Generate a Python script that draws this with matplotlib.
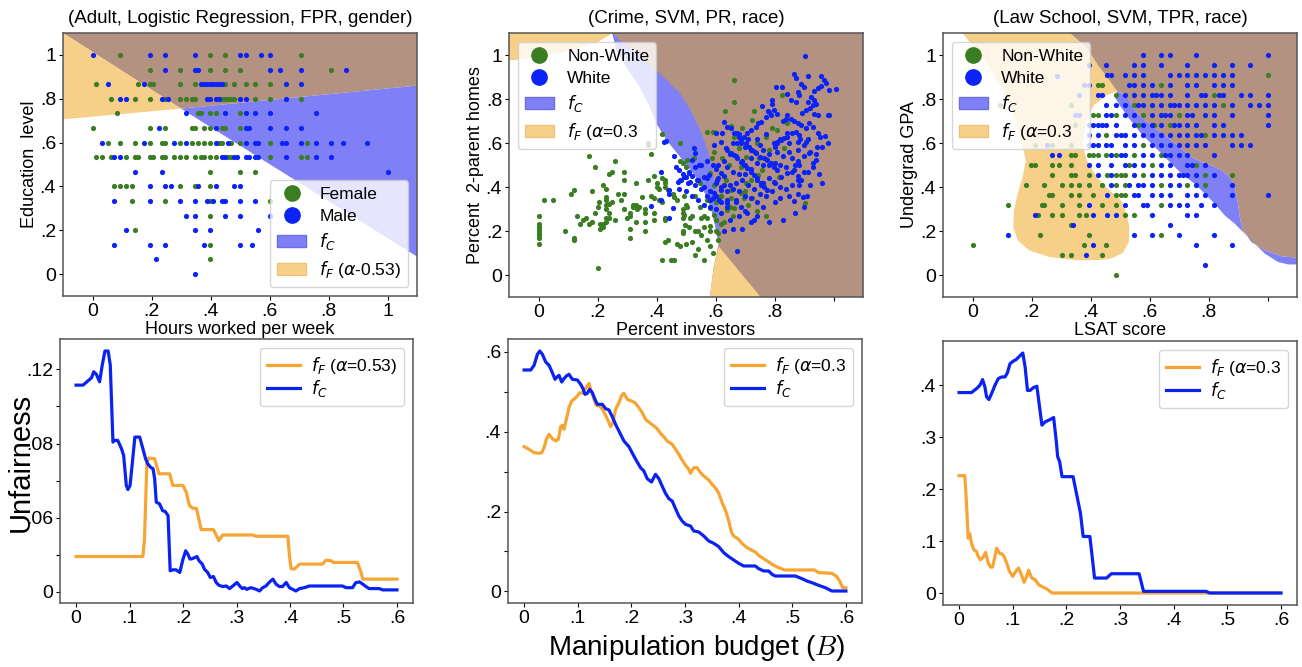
import numpy as np
import matplotlib.pyplot as plt
from matplotlib.patches import Polygon, Patch
from matplotlib.lines import Line2D

plt.rcParams['font.family'] = ['Liberation Sans', 'DejaVu Sans']
plt.rcParams['mathtext.fontset'] = 'dejavusans'

GREEN = '#3a7d22'
BLUE = '#0b22f8'
LINE_BLUE = '#0a22f2'
LINE_ORANGE = '#f6a534'
REG_BLUE = '#8080f6'
REG_ORANGE = '#f6d089'
REG_BROWN = '#b49282'

# ---------------- Adult (education level rows -> hours worked) ----------------
adult_female_rows = [
    (1.0, [.094, .398, .45, .706]),
    (.933, [.195, .296, .398, .45, .50, .81]),
    (.867, [.011, .154, .195, .205, .296, .347, .45, .48, .52, .55, .60]),
    (.8, [.062, .144, .195, .245, .296, .317, .337, .347, .44, .45, .46, .47, .48, .55, .60, .706]),
    (.733, [.083, .357, .368, .398, .42, .50]),
    (.667, [0, .195, .245, .337, .347, .378, .398, .44, .45, .50]),
    (.6, [.052, .093, .144, .195, .235, .245, .296, .337, .357, .378, .398, .43, .44, .47, .50, .60, .726]),
    (.533, [.011, .032, .062, .113, .144, .154, .195, .205, .235, .245, .276, .296, .317, .347, .368,
            .378, .398, .42, .46, .47, .60, .706, .726]),
    (.467, [.398, .50, .55]),
    (.4, [.072, .093, .113, .133, .296, .347, .398]),
    (.333, [.133, .245, .398, .60]),
    (.267, [.398]),
    (.2, [.144]),
    (.133, [.398]),
    (.067, [.398]),
]
adult_male_rows = [
    (1.0, [0, .195, .245, .347, .50, .52, .57, .60]),
    (.933, [.245, .347, .357, .60, .635, .706, .86]),
    (.867, [.052, .174, .368, .378, .388, .398, .408, .42, .43, .44, .655, .706]),
    (.8, [.093, .113, .235, .256, .388, .398, .42, .43, .50, .52, .655]),
    (.733, [.317, .45, .52, .55, .60, .757]),
    (.667, [.225, .42, .52, .53, .60, .655, .706]),
    (.6, [.032, .174, .276, .317, .42, .46, .52, .55, .56, .644, .655, .706, .757, .81, .85, .93]),
    (.533, [.072, .093, .44, .45, .48, .49, .52, .53, .55, .56, .655, .757, .81]),
    (.467, [.144, .235, 1.0]),
    (.4, [.195, .245, .266, .357, .42, .48, .50]),
    (.333, [.072, .195, .296, .347, .388, .41, .44, .45, .50, .55]),
    (.267, [.317, .347, .45, .50, .60]),
    (.2, [.113, .347, .398, .56]),
    (.133, [.072, .195, .245, .378, .50, .54]),
    (.067, [.215]),
    (0.0, [.347]),
]
adult_brown = [(-0.1, 1.1), (1.1, 1.1), (1.1, 0.86), (0.30, 0.755)]
adult_orange = [(-0.1, 1.1), (-0.1, 0.706), (0.30, 0.755)]
adult_blue = [(0.30, 0.755), (1.1, 0.86), (1.1, 0.08)]

# ---------------- Crime (percent investors, percent 2-parent homes) ----------------
crime_nonwhite = [
    (0, .27), (0, .23), (0, .22), (0, .205), (0, .19), (0, .18), (0, .17), (0, .14),
    (.02, .34), (.05, .34), (.09, .20), (.11, .37), (.12, .385), (.12, .17), (.12, .16), (.13, .27),
    (.14, .23), (.15, .25), (.16, .26), (.17, .23), (.17, .54), (.18, .38), (.18, .24), (.19, .49),
    (.19, .28), (.20, .03), (.20, .31), (.205, .33), (.21, .21), (.21, .23), (.22, .22), (.22, .23),
    (.22, .41), (.23, .39), (.23, .355), (.23, .34), (.24, .325), (.23, .32), (.23, .30), (.23, .26),
    (.24, .26), (.24, .28), (.23, .24), (.24, .46), (.25, .47), (.25, .33), (.26, .52), (.26, .25),
    (.27, .37), (.29, .47), (.29, .43), (.28, .34), (.29, .30), (.29, .37), (.30, .26), (.31, .27),
    (.31, .28), (.32, .31), (.32, .32), (.33, .32), (.33, .42), (.335, .30), (.34, .31), (.35, .355),
    (.31, .21), (.31, .17), (.33, .24), (.36, .24), (.36, .20), (.36, .30), (.36, .28), (.37, .43),
    (.37, .60), (.37, .59), (.38, .55), (.38, .36), (.39, .35), (.39, .28), (.39, .25), (.40, .42),
    (.40, .40), (.41, .39), (.39, .45), (.42, .44), (.43, .43), (.43, .42), (.43, .40), (.41, .34),
    (.42, .33), (.42, .64), (.43, .26), (.43, .25), (.43, .15), (.44, .16), (.42, .07), (.45, .07),
    (.46, .07), (.44, .385), (.455, .37), (.46, .355), (.47, .34), (.47, .14), (.48, .13), (.48, .60),
    (.49, .30), (.49, .28), (.49, .26), (.49, .20), (.49, .19), (.48, .52), (.49, .51), (.50, .49),
    (.662, .885), (.662, .787), (.632, .745), (.651, .677), (.572, .648), (.591, .648), (.827, .817),
    (.731, .746), (.723, .704), (.844, .689), (.664, .628), (.69, .666), (.793, .666), (.81, .659),
    (.771, .628), (.742, .598), (.833, .576), (.782, .568), (.68, .576), (.702, .538), (.748, .53),
    (.771, .526), (.645, .5), (.685, .492), (.594, .56), (.503, .523), (.526, .53), (.588, .53),
    (.622, .53), (.759, .477), (.745, .455), (.814, .444), (.56, .447), (.583, .462), (.549, .417),
    (.594, .409), (.634, .432), (.702, .417), (.651, .387), (.617, .357), (.651, .349), (.685, .372),
    (.697, .349), (.725, .349), (.711, .319), (.739, .289), (.77, .269), (.902, .326), (.492, .357),
    (.532, .357), (.572, .341), (.503, .311), (.549, .311), (.583, .304), (.492, .273), (.515, .258),
    (.56, .269), (.498, .228), (.572, .258), (.594, .273), (.64, .296), (.662, .304), (.583, .221),
    (.51, .22), (.53, .20), (.55, .18), (.57, .16), (.52, .15), (.50, .14), (.54, .12), (.58, .20),
    (.60, .25), (.59, .10), (.56, .07), (.53, .09), (.61, .19), (.62, .23),
    (.62, .36), (.60, .33), (.58, .34), (.55, .26), (.63, .24), (.66, .27), (.61, .16), (.58, .13),
    (.52, .27), (.50, .32), (.56, .22), (.54, .20), (.60, .20), (.65, .31), (.70, .38), (.72, .43),
]
crime_white = [
    (.426, .604), (.432, .609), (.414, .468), (.46, .539), (.466, .491), (.477, .476), (.489, .461),
    (.483, .431), (.472, .423), (.477, .393), (.443, .388), (.441, .367), (.414, .34), (.381, .313),
    (.455, .305), (.443, .257), (.5, .446), (.506, .416),
    (.905, .994), (.958, .903), (.967, .888), (.975, .872), (.958, .858), (.947, .85), (.935, .835),
    (.984, .842), (1.01, .845), (.865, .915), (.873, .896), (.89, .87), (.899, .855), (.913, .903),
    (.878, .832), (.884, .817), (.805, .855), (.824, .855), (.844, .825), (.856, .795), (.873, .787),
    (.924, .81), (.935, .795), (.93, .772), (.941, .779), (.913, .787), (.922, .757), (.907, .749),
    (.892, .737), (.933, .734), (.947, .727), (.981, .727), (.986, .727), (.793, .795), (.793, .779),
    (.799, .749), (.808, .734), (.787, .727), (.756, .767), (.782, .742), (.77, .719), (.844, .727),
    (.838, .711), (.83, .701), (.856, .711), (.867, .701), (.878, .689), (.89, .681), (.907, .666),
    (.918, .689), (.93, .671), (.873, .651), (.884, .636), (.861, .644), (.844, .644), (.833, .625),
    (.821, .613), (.81, .606), (.799, .598), (.947, .644), (.953, .628), (.945, .583), (.915, .616),
    (.907, .606), (.888, .616), (.878, .606), (.779, .746), (.754, .697), (.744, .692), (.736, .674),
    (.719, .659), (.708, .644), (.696, .628), (.685, .613), (.673, .598), (.623, .644), (.603, .647),
    (.594, .59), (.617, .604),
    (.685, .60), (.70, .58), (.72, .57), (.735, .56), (.75, .59), (.76, .57), (.78, .55), (.80, .58),
    (.81, .56), (.83, .54), (.85, .56), (.86, .53), (.87, .50), (.88, .52), (.90, .54), (.92, .56),
    (.94, .55), (.72, .53), (.74, .51), (.76, .50), (.78, .50), (.80, .51), (.82, .50), (.84, .49),
    (.86, .47), (.88, .45), (.90, .47), (.93, .49), (.95, .46), (.96, .42), (.92, .41), (.89, .43),
    (.70, .50), (.69, .52), (.67, .54), (.65, .55), (.63, .52), (.61, .50), (.64, .49), (.66, .47),
    (.68, .46), (.70, .46), (.72, .48), (.74, .44), (.76, .42), (.78, .44), (.80, .42), (.82, .40),
    (.84, .39), (.86, .41), (.79, .38), (.77, .36), (.75, .37), (.73, .39), (.71, .41), (.69, .43),
    (.67, .42), (.65, .41), (.63, .45), (.61, .44), (.60, .42), (.62, .40), (.64, .38), (.66, .39),
    (.68, .38), (.70, .36), (.72, .35), (.74, .33), (.76, .31), (.80, .33), (.82, .35), (.85, .36),
    (.88, .37), (.91, .36), (.90, .31), (.87, .28), (.83, .25), (.78, .24), (.74, .27), (.70, .29),
    (.67, .33), (.64, .34), (.62, .33), (.60, .36), (.58, .38), (.56, .40), (.54, .43), (.52, .45),
    (.53, .41), (.55, .39), (.57, .36), (.59, .35), (.58, .31), (.56, .32), (.54, .34), (.52, .36),
    (.50, .38), (.51, .47), (.53, .49), (.55, .50), (.57, .52), (.59, .50), (.60, .48), (.57, .44),
    (.62, .28), (.65, .25), (.68, .27), (.72, .24), (.69, .21), (.66, .21), (.63, .20), (.64, .31),
    (.60, .30), (.674, .11), (.865, .337), (.895, .355), (.93, .51), (.96, .58), (.97, .63),
    (.90, .59), (.85, .60), (.82, .62), (.77, .64), (.74, .62), (.71, .62), (.68, .64), (.66, .60),
    (.98, .60),
    (.481, .432), (.515, .424), (.538, .432), (.56, .447), (.579, .455), (.526, .576), (.532, .553),
    (.52, .523), (.543, .50), (.509, .462), (.492, .447), (.629, .696), (.64, .674), (.651, .666),
    (.662, .644), (.673, .644), (.679, .628), (.702, .598), (.713, .583), (.724, .568), (.736, .553),
    (.75, .538), (.764, .53), (.776, .523), (.787, .508), (.799, .492), (.81, .477), (.634, .576),
    (.64, .568), (.651, .553), (.662, .545), (.673, .53), (.685, .515), (.697, .50), (.708, .485),
    (.719, .47), (.731, .455), (.742, .432), (.754, .417), (.764, .402), (.617, .462), (.606, .432),
    (.629, .409), (.617, .387), (.594, .372), (.583, .341), (.611, .341), (.64, .326), (.668, .341),
    (.685, .311), (.708, .281), (.731, .251), (.754, .409), (.776, .387), (.799, .424), (.821, .447),
    (.844, .462), (.867, .477), (.884, .50), (.878, .432), (.884, .409), (.913, .47), (.941, .523),
    (.918, .553), (.878, .568), (.841, .628), (.81, .598),
]
crime_orange_top = [(-0.1, 1.1), (0.25, 1.1), (0.2, 1.06), (0.1, 1.02), (0.0, 0.99), (-0.1, 0.977)]
crime_white_region = [
    (-0.1, 0.977), (0.0, 0.99), (0.1, 1.02), (0.2, 1.06), (0.25, 1.1), (0.265, 1.02), (0.299, 0.944),
    (0.344, 0.853), (0.378, 0.763), (0.401, 0.687), (0.435, 0.612), (0.481, 0.536), (0.526, 0.461),
    (0.56, 0.385), (0.583, 0.31), (0.6, 0.219), (0.611, 0.144), (0.594, 0.038), (0.581, -0.1),
    (-0.1, -0.1),
]
crime_blue = [
    (0.25, 1.1), (0.3, 1.04), (0.4, 0.93), (0.481, 0.825), (0.515, 0.749), (0.543, 0.674),
    (0.566, 0.598), (0.583, 0.523), (0.594, 0.447), (0.603, 0.372), (0.611, 0.296), (0.615, 0.19),
    (0.611, 0.13), (0.611, 0.144), (0.6, 0.219), (0.583, 0.31), (0.56, 0.385), (0.526, 0.461),
    (0.481, 0.536), (0.435, 0.612), (0.401, 0.687), (0.378, 0.763), (0.344, 0.853), (0.299, 0.944),
    (0.265, 1.02),
]
crime_orange_bottom = [(0.581, -0.1), (0.753, -0.1), (0.611, 0.13), (0.594, 0.038)]

# ---------------- Law school (LSAT score, undergrad GPA) ----------------
law_nonwhite = [
    (.424, .862), (.439, .862), (.334, .771), (.41, .726), (.424, .726), (.348, .68), (.452, .635),
    (.213, .589), (.271, .589), (.334, .589), (.334, .544), (.348, .544), (.394, .544), (.41, .544),
    (.424, .544), (.452, .544), (.198, .498), (.213, .498), (.271, .498), (.294, .498), (.334, .498),
    (.271, .453), (.334, .453), (.348, .453), (.394, .453), (.455, .453), (.183, .408), (.243, .408),
    (.303, .408), (.334, .408), (.362, .408), (.394, .408), (.439, .408), (.259, .362), (.271, .362),
    (.334, .362), (.362, .362), (.41, .362), (.122, .317), (.235, .317), (.243, .317), (.303, .317),
    (.362, .317), (.439, .317), (.222, .271), (.271, .271), (.303, .271), (.362, .271), (.385, .271),
    (.334, .226), (.229, .18), (.394, .18), (0, .135), (.379, .135), (.452, .135), (.303, .089),
    (.334, .089), (.439, .089), (.488, 0), (.092, .774), (.333, .773),
    (1.0, .908), (.638, .862), (.488, .817), (.819, .817), (.546, .771), (.849, .771), (.488, .726),
    (.577, .726), (.699, .726), (.561, .68), (.615, .68), (.668, .68), (.789, .635), (.577, .589),
    (.488, .544), (.546, .544), (.638, .544), (.53, .498), (.607, .498), (.758, .498), (.488, .453),
    (.504, .453), (.516, .453), (.577, .453), (.789, .453), (.88, .453), (.488, .408), (.516, .408),
    (.638, .408), (.728, .408), (.789, .408), (.488, .362), (.504, .362), (.516, .362), (.488, .317),
    (.638, .317), (.516, .271), (.546, .271), (.638, .18),
]
law_white_left = [
    (.394, .953), (.452, .953), (.288, .906), (.455, .908), (.469, .908), (.379, .862), (.394, .862),
    (.362, .817), (.424, .817), (.439, .817), (.452, .771), (.348, .726), (.362, .726), (.452, .726),
    (.469, .726), (.394, .68), (.41, .68), (.424, .68), (.439, .68), (.452, .68), (.394, .635),
    (.424, .635), (.253, .589), (.394, .589), (.41, .589), (.424, .589), (.452, .589), (.469, .589),
    (.271, .544), (.294, .544), (.469, .544), (.394, .498), (.424, .498), (.469, .498), (.424, .453),
    (.469, .453), (.469, .408), (.455, .362), (.394, .317), (.213, .271), (.41, .271), (.455, .271),
    (.342, .226), (.122, .18), (.41, .135), (.385, .089),
]
# remaining white students, one row per GPA level
law_white_rows = [
    (.998, [.577, .638, .668, .758, 1.0]),
    (.953, [.546, .577, .638, .728, .819, .88, .94]),
    (.908, [.516, .546, .577, .668, .699, .728, .758, .789, .819, .849, .88]),
    (.862, [.53, .546, .577, .607, .668, .728, .758, .819, .849, .88]),
    (.817, [.516, .546, .577, .607, .623, .638, .668, .728, .773, .789, .835, .849, .909, .94, 1.0]),
    (.771, [.488, .516, .561, .577, .607, .638, .668, .683, .699, .728, .758, .789, .819, .88, .94,
            .971, 1.0]),
    (.726, [.516, .546, .607, .638, .654, .668, .728, .744, .789, .819, .88, 1.0]),
    (.68, [.488, .546, .577, .607, .638, .683, .699, .728, .758, .819, .849, 1.0]),
    (.635, [.488, .504, .516, .546, .577, .607, .638, .668, .699, .728, .758, .773, .819, .849, .88,
            .909]),
    (.589, [.516, .546, .607, .638, .668, .699, .728, .758, .789, .88, .909, .94]),
    (.544, [.504, .516, .577, .607, .654, .668, .699, .728, .819]),
    (.498, [.516, .546, .577, .638, .668, .728, .744, .789]),
    (.453, [.546, .607, .638, .668, .699, .714, .728, .758, .819]),
    (.408, [.53, .561, .577, .607, .668, .699, .758, .88]),
    (.362, [.546, .561, .607, .638, .668, .728, .758, .789, .88, 1.0]),
    (.317, [.516, .577, .592, .668, .699, .728, .773, .819]),
    (.271, [.488, .607, .728, .758]),
    (.226, [.668]),
    (.18, [.546, .607, .699, .819]),
    (.135, [.758, .88]),
    (.044, [.789]),
]
law_orange = [
    (-0.034, 1.1), (0.33, 1.1), (0.385, 1.036), (0.43, 0.945), (0.464, 0.885), (0.49, 0.835),
    (0.457, 0.818), (0.412, 0.773), (0.39, 0.72), (0.379, 0.658), (0.373, 0.597), (0.385, 0.529),
    (0.407, 0.476), (0.435, 0.424), (0.464, 0.386), (0.498, 0.348), (0.51, 0.326), (0.521, 0.282),
    (0.532, 0.218), (0.53, 0.15), (0.51, 0.10), (0.47, 0.075), (0.43, 0.068), (0.351, 0.067),
    (0.26, 0.082), (0.192, 0.112), (0.153, 0.158), (0.138, 0.218), (0.141, 0.294), (0.153, 0.37),
    (0.17, 0.445), (0.181, 0.521), (0.17, 0.582), (0.158, 0.642), (0.124, 0.794), (0.057, 0.945),
]
law_brown = [
    (0.33, 1.1), (1.1, 1.1), (1.1, 0.079), (1.048, 0.085), (0.991, 0.112), (0.946, 0.15), (0.917, 0.203),
    (0.906, 0.264), (0.9, 0.324), (0.889, 0.4), (0.872, 0.445), (0.844, 0.476), (0.81, 0.498),
    (0.776, 0.514), (0.742, 0.536), (0.708, 0.574), (0.674, 0.612), (0.629, 0.658), (0.584, 0.703),
    (0.55, 0.748), (0.521, 0.817), (0.49, 0.835), (0.464, 0.885), (0.43, 0.945), (0.385, 1.036),
]
law_blue = [
    (0.49, 0.835), (0.521, 0.817), (0.55, 0.748), (0.584, 0.703), (0.629, 0.658), (0.674, 0.612),
    (0.708, 0.574), (0.742, 0.536), (0.776, 0.514), (0.81, 0.498), (0.844, 0.476), (0.872, 0.445),
    (0.889, 0.4), (0.9, 0.324), (0.906, 0.264), (0.917, 0.203), (0.946, 0.15), (0.991, 0.112),
    (1.048, 0.085), (1.1, 0.079), (1.1, 0.048), (1.07, 0.048), (1.036, 0.059), (0.991, 0.097),
    (0.957, 0.142), (0.923, 0.188), (0.889, 0.233), (0.855, 0.271), (0.821, 0.324), (0.787, 0.37),
    (0.753, 0.415), (0.708, 0.461), (0.663, 0.521), (0.618, 0.582), (0.572, 0.642), (0.527, 0.718),
    (0.5, 0.77), (0.482, 0.81),
]

# ---------------- unfairness vs manipulation budget ----------------
adult_fc = [
    (0, .1115), (.013, .1115), (.022, .1137), (.029, .1155), (.033, .1187), (.038, .1173), (.044, .1133),
    (.049, .1223), (.054, .1299), (.060, .1299), (.064, .1223), (.069, .0808), (.072, .0817), (.078, .0817),
    (.085, .0772), (.089, .0736), (.094, .0574), (.097, .0552), (.101, .0574), (.106, .0718), (.110, .0835),
    (.119, .0835), (.125, .0772), (.130, .0718), (.134, .0691), (.139, .0673), (.144, .0664), (.147, .061),
    (.150, .0484), (.156, .0475), (.162, .0438), (.167, .0433), (.172, .0411), (.176, .0114), (.181, .0119),
    (.187, .0119), (.194, .0105), (.200, .0177), (.205, .0222), (.209, .0204), (.213, .0177), (.218, .018),
    (.226, .0191), (.230, .0168), (.236, .015), (.240, .0123), (.246, .0105), (.251, .0078), (.257, .0083),
    (.262, .0051), (.267, .0036), (.274, .0029), (.281, .0032), (.287, .0018), (.293, .0032), (.301, .0051),
    (.306, .0032), (.311, .0018), (.315, .0023), (.319, .0014), (.327, .0023), (.337, .0014), (.343, .0005),
    (.349, .0023), (.355, .0032), (.362, .0054), (.368, .0069), (.374, .0042), (.380, .0029), (.386, .0029),
    (.393, .0051), (.399, .0023), (.405, .0014), (.411, .0005), (.418, .0018), (.427, .0023), (.436, .0032),
    (.467, .0032), (.498, .0032), (.505, .0023), (.511, .0023), (.517, .0023), (.523, .005), (.530, .0054),
    (.536, .0042), (.542, .0029), (.548, .0018), (.567, .0018), (.573, .0011), (.600, .0011),
]
adult_ff = [
    (0, .0191), (.125, .0191), (.128, .0285), (.1325, .070), (.136, .0722), (.147, .0718), (.155, .0637),
    (.175, .0637), (.181, .0574), (.200, .0574), (.206, .0538), (.212, .0466), (.218, .0451), (.225, .0451),
    (.234, .0336), (.257, .0336), (.267, .0276), (.274, .0307), (.330, .0307), (.337, .030), (.396, .030),
    (.399, .0195), (.402, .0126), (.408, .0123), (.418, .015), (.461, .015), (.467, .0171), (.477, .0168),
    (.481, .0159), (.526, .0159), (.533, .0105), (.536, .0069), (.600, .0069),
]
crime_fc = [
    (0, .5547), (.0124, .5547), (.0186, .5664), (.0248, .594), (.0292, .6023), (.0341, .594), (.0403, .5748),
    (.0465, .5664), (.0527, .548), (.0577, .5313), (.062, .538), (.0651, .5414), (.0701, .5246), (.0744, .533),
    (.0788, .5397), (.0837, .5439), (.09, .5313), (.0993, .5297), (.1055, .5188), (.1098, .5079),
    (.1135, .4937), (.1179, .4962), (.1222, .5063), (.1272, .4979), (.1321, .4812), (.1365, .4687),
    (.1458, .4687), (.152, .4578), (.1582, .4545), (.1644, .4378), (.1706, .4185), (.1768, .4018),
    (.1861, .3768), (.1954, .3626), (.2029, .3434), (.2109, .3241), (.2171, .3099), (.2233, .3016),
    (.2295, .2824), (.2376, .274), (.245, .2932), (.2512, .2824), (.2587, .2598), (.2636, .2456),
    (.2699, .2322), (.2761, .2264), (.2823, .2072), (.2885, .1888), (.2947, .1763), (.3009, .1679),
    (.3102, .1637), (.3164, .1512), (.3257, .1487), (.335, .1387), (.3443, .1261), (.3536, .1203),
    (.3629, .1119), (.3722, .0969), (.3815, .0869), (.3908, .0785), (.4001, .0702), (.4094, .0635),
    (.4311, .0635), (.4373, .0568), (.4467, .051), (.456, .051), (.4622, .0426), (.4684, .0384),
    (.5056, .0384), (.518, .0317), (.5273, .0259), (.5366, .0217), (.549, .015), (.5614, .0092),
    (.5738, .0008), (.6, .0008),
]
crime_ff = [
    (0, .3626), (.0093, .3559), (.0186, .3475), (.0279, .3459), (.0329, .3475), (.0372, .3601), (.0416, .381),
    (.0465, .3935), (.0527, .3826), (.0589, .3768), (.0639, .381), (.0682, .4127), (.0713, .416),
    (.0744, .406), (.0788, .4311), (.0837, .4603), (.0887, .477), (.0931, .4812), (.0993, .4896),
    (.1036, .4979), (.1086, .4962), (.1135, .5063), (.1179, .5146), (.121, .5213), (.1241, .5063),
    (.1303, .4812), (.1346, .4662), (.1408, .4645), (.147, .4545), (.152, .4411), (.1569, .4269),
    (.1613, .4127), (.1656, .4227), (.1706, .4561), (.1768, .4729), (.183, .4937), (.1861, .4962),
    (.1923, .4812), (.2004, .477), (.2066, .4729), (.214, .4603), (.2202, .4478), (.2264, .4311),
    (.2326, .4244), (.2419, .4144), (.2481, .4077), (.2543, .396), (.2605, .3876), (.2667, .3768),
    (.2761, .3684), (.2823, .3559), (.2885, .3434), (.2947, .3292), (.3009, .3158), (.3071, .3058),
    (.3102, .2957), (.3164, .3099), (.3226, .3099), (.3288, .2974), (.335, .2891), (.3443, .279),
    (.3505, .2682), (.3579, .2573), (.3629, .2456), (.3691, .2222), (.3753, .2038), (.3815, .1763),
    (.3865, .1487), (.3908, .1387), (.4001, .1303), (.4063, .1203), (.4156, .1094), (.4237, .1036),
    (.4311, .0986), (.4386, .0886), (.4485, .0802), (.456, .0735), (.4653, .0652), (.4746, .0593),
    (.4857, .0535), (.5416, .0535), (.549, .0468), (.5738, .0451), (.5831, .0368), (.5893, .0234),
    (.5937, .0092), (.6, .0092),
]
law_fc = [
    (0, .3859), (.0231, .3859), (.0325, .3936), (.0388, .40), (.0438, .4109), (.0481, .3968), (.0513, .3776),
    (.0556, .3725), (.0606, .384), (.0669, .40), (.0731, .4128), (.0794, .416), (.0856, .416), (.09, .4237),
    (.095, .4416), (.1013, .4467), (.1063, .4493), (.1125, .4557), (.1188, .4621), (.1231, .4352),
    (.1275, .3901), (.1325, .3901), (.1388, .3955), (.145, .3981), (.15, .3584), (.1544, .3232),
    (.1606, .3296), (.17, .3341), (.1763, .3379), (.1813, .2912), (.1838, .2624), (.1875, .2528),
    (.1919, .224), (.2125, .224), (.22, .1856), (.2263, .1536), (.2313, .1088), (.2438, .1088),
    (.2481, .0704), (.2525, .0288), (.275, .0288), (.2838, .0371), (.3356, .0371), (.34, .0192),
    (.3438, .0032), (.4606, .0032), (.4669, 0), (.6, 0),
]
law_ff = [
    (0, .2259), (.0106, .2259), (.0138, .1728), (.0169, .1056), (.02, .1139), (.0231, .096), (.0275, .0832),
    (.0325, .08), (.0356, .0704), (.04, .064), (.045, .0691), (.0494, .0781), (.0544, .0576), (.0588, .0499),
    (.0625, .0499), (.0669, .0704), (.07, .0864), (.075, .0768), (.0794, .0755), (.0838, .0704),
    (.0888, .0576), (.0938, .0416), (.1, .032), (.1056, .0416), (.1106, .048), (.115, .0384),
    (.1213, .0205), (.1263, .0333), (.1294, .0435), (.1356, .0288), (.1419, .0256), (.1481, .016),
    (.1563, .0115), (.1638, .0077), (.1731, 0), (.6, 0),
]


def expand_rows(rows):
    return np.array([(x, y) for y, xs in rows for x in xs])


def region_panel(ax, title, xlabel, ylabel, regions, groups, labels, legend_loc, alpha_text,
                 label_one=True):
    for poly, color in regions:
        ax.add_patch(Polygon(poly, closed=True, facecolor=color, edgecolor='none', zorder=1))
    for pts, color in zip(groups, [GREEN, BLUE]):
        pts = np.asarray(pts)
        ax.scatter(pts[:, 0], pts[:, 1], s=14, color=color, linewidths=0, zorder=3)
    ax.set_xlim(-0.1, 1.1)
    ax.set_ylim(-0.1, 1.1)
    ticks = [0, .2, .4, .6, .8, 1]
    ax.set_xticks(ticks)
    ax.set_xticklabels(['0', '.2', '.4', '.6', '.8', '1' if label_one else ''])
    ax.set_yticks(ticks)
    ax.set_yticklabels(['0', '.2', '.4', '.6', '.8', '1'])
    ax.tick_params(labelsize=14, length=3, width=0.8, pad=2)
    ax.set_title(title, fontsize=13.5, pad=7)
    ax.set_xlabel(xlabel, fontsize=13, labelpad=1)
    ax.set_ylabel(ylabel, fontsize=13, labelpad=1)
    handles = [
        Line2D([], [], marker='o', ls='', color=GREEN, markersize=11, label=labels[0]),
        Line2D([], [], marker='o', ls='', color=BLUE, markersize=11, label=labels[1]),
        Patch(facecolor=REG_BLUE, edgecolor='#6d6de0', label='$f_C$'),
        Patch(facecolor=REG_ORANGE, edgecolor='#ecc37a', label=alpha_text),
    ]
    ax.legend(handles=handles, loc=legend_loc, fontsize=12.5, labelspacing=0.4, handlelength=1.7,
              handletextpad=0.75, borderpad=0.4, framealpha=0.8)


def curve_panel(ax, ff, fc, ff_label, yticks, yticklabels):
    ff = np.asarray(ff)
    fc = np.asarray(fc)
    ax.plot(ff[:, 0], ff[:, 1], color=LINE_ORANGE, lw=2.3, label=ff_label)
    ax.plot(fc[:, 0], fc[:, 1], color=LINE_BLUE, lw=2.3, label='$f_C$')
    ax.set_xticks([0, .1, .2, .3, .4, .5, .6])
    ax.set_xticklabels(['0', '.1', '.2', '.3', '.4', '.5', '.6'])
    ax.set_yticks(yticks)
    ax.set_yticklabels(yticklabels)
    ax.tick_params(labelsize=14, length=3, width=0.8, pad=2)
    ax.legend(loc='upper right', fontsize=12.5, labelspacing=0.15, handlelength=1.9,
              handletextpad=0.65, borderpad=0.4, framealpha=0.8)


fig = plt.figure(figsize=(13.02, 6.67), dpi=100)
W, H = 1302.0, 667.0


def rect(x0, y0, x1, y1):
    return [x0 / W, 1 - y1 / H, (x1 - x0) / W, (y1 - y0) / H]


ax1 = fig.add_axes(rect(63, 33, 417, 296))
ax2 = fig.add_axes(rect(509, 33, 863, 297))
ax3 = fig.add_axes(rect(943, 33, 1297, 297))
ax4 = fig.add_axes(rect(60, 339, 413, 603))
ax5 = fig.add_axes(rect(508, 339, 862, 603))
ax6 = fig.add_axes(rect(943, 341, 1297, 605))

region_panel(ax1, '(Adult, Logistic Regression, FPR, gender)', 'Hours worked per week',
             'Education  level',
             [(adult_brown, REG_BROWN), (adult_orange, REG_ORANGE), (adult_blue, REG_BLUE)],
             [expand_rows(adult_female_rows), expand_rows(adult_male_rows)],
             ['Female', 'Male'], 'lower right', '$f_F$ ($\\alpha$-0.53)')

ax2.set_facecolor(REG_BROWN)
region_panel(ax2, '(Crime, SVM, PR, race)', 'Percent investors', 'Percent  2-parent homes',
             [(crime_white_region, 'white'), (crime_orange_top, REG_ORANGE), (crime_blue, REG_BLUE),
              (crime_orange_bottom, REG_ORANGE)],
             [crime_nonwhite, crime_white],
             ['Non-White', 'White'], 'upper left', '$f_F$ ($\\alpha$=0.3', label_one=False)

region_panel(ax3, '(Law School, SVM, TPR, race)', 'LSAT score', 'Undergrad GPA',
             [(law_orange, REG_ORANGE), (law_brown, REG_BROWN), (law_blue, REG_BLUE)],
             [law_nonwhite, np.vstack([np.array(law_white_left), expand_rows(law_white_rows)])],
             ['Non-White', 'White'], 'upper left', '$f_F$ ($\\alpha$=0.3', label_one=False)

curve_panel(ax4, adult_ff, adult_fc, '$f_F$ ($\\alpha$=0.53)',
            [0, .02, .04, .06, .08, .10, .12], ['0', '', '.06', '', '.08', '', '.12'])
curve_panel(ax5, crime_ff, crime_fc, '$f_F$ ($\\alpha$=0.3',
            [0, .1, .2, .3, .4, .5, .6], ['0', '', '.2', '', '.4', '', '.6'])
curve_panel(ax6, law_ff, law_fc, '$f_F$ ($\\alpha$=0.3',
            [0, .1, .2, .3, .4], ['0', '.1', '.2', '.3', '.4'])

for ax in fig.axes:
    for sp in ax.spines.values():
        sp.set_color('#555555')
        sp.set_linewidth(1.1)

fig.text(21 / W, 1 - 462 / H, 'Unfairness', rotation=90, fontsize=21, ha='center', va='center')
fig.text(697 / W, 1 - 648 / H, 'Manipulation budget ($B$)', fontsize=20, ha='center', va='center',
         math_fontfamily='cm')

fig.savefig('out.png', dpi=100)
